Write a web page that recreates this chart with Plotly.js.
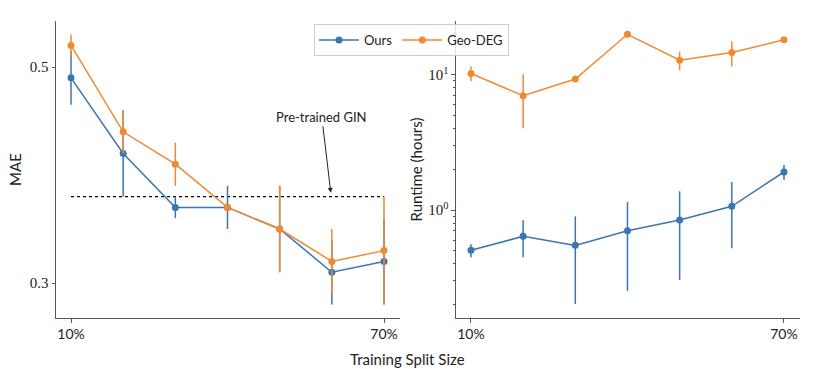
<!DOCTYPE html>
<html>
<head>
<meta charset="utf-8">
<script src="https://cdn.plot.ly/plotly-3.0.1.min.js"></script>
<style>html,body{margin:0;padding:0;background:#fff;}#chart{width:817px;height:369px;}</style>
</head>
<body>
<div id="chart"></div>
<script>
// ---- data ----
const splits = [10, 20, 30, 40, 50, 60, 70];
const tickLabels = ["10%", "70%"];
const tickPositions = [10, 70];

const oursMAE = [0.490, 0.420, 0.370, 0.370, 0.350, 0.310, 0.320];
const oursMAEerr = [0.025, 0.040, 0.010, 0.020, 0.040, 0.030, 0.040];
const geoMAE = [0.520, 0.440, 0.410, 0.370, 0.350, 0.320, 0.330];
const geoMAEerr = [0.010, 0.020, 0.020, 0.002, 0.040, 0.030, 0.050];
const ginMAE = 0.380;

const oursRuntime = [0.504, 0.639, 0.548, 0.703, 0.844, 1.065, 1.91];
const oursRuntimeHi = [0.558, 0.839, 0.898, 1.146, 1.375, 1.61, 2.15];
const oursRuntimeLo = [0.447, 0.447, 0.202, 0.253, 0.304, 0.521, 1.67];
const geoRuntime = [10.2, 7.0, 9.3, 19.9, 12.8, 14.6, 18.1];
const geoRuntimeHi = [11.5, 10.1, 9.3, 19.9, 14.8, 17.7, 18.1];
const geoRuntimeLo = [8.93, 4.02, 9.3, 19.9, 10.8, 11.5, 18.1];

// ---- styles ----
const BLUE = "#3a76b0";
const ORANGE = "#f08a32";
const SANS = "Lato, 'Open Sans', sans-serif";
const SERIF = "'Liberation Serif', 'DejaVu Serif', serif";

function series(name, color, x, y, errPlus, errMinus, xa, ya, showlegend) {
  return {
    type: "scatter", mode: "lines+markers", name: name,
    x: x, y: y, xaxis: xa, yaxis: ya, showlegend: showlegend, legendgroup: name,
    line: {color: color, width: 1.5},
    marker: {color: color, size: 7},
    error_y: {type: "data", symmetric: false, array: errPlus, arrayminus: errMinus,
              color: color, thickness: 1.5, width: 0}
  };
}

const oursRtPlus = oursRuntime.map((v, i) => oursRuntimeHi[i] - v);
const oursRtMinus = oursRuntime.map((v, i) => v - oursRuntimeLo[i]);
const geoRtPlus = geoRuntime.map((v, i) => geoRuntimeHi[i] - v);
const geoRtMinus = geoRuntime.map((v, i) => v - geoRuntimeLo[i]);

const traces = [
  {type: "scatter", mode: "lines", x: [splits[0], splits[splits.length - 1]], y: [ginMAE, ginMAE],
   xaxis: "x", yaxis: "y", showlegend: false, hoverinfo: "skip",
   line: {color: "#000", width: 1.2, dash: "dot"}},
  series("Ours", BLUE, splits, oursMAE, oursMAEerr, oursMAEerr, "x", "y", true),
  series("Geo-DEG", ORANGE, splits, geoMAE, geoMAEerr, geoMAEerr, "x", "y", true),
  series("Ours", BLUE, splits, oursRuntime, oursRtPlus, oursRtMinus, "x2", "y2", false),
  series("Geo-DEG", ORANGE, splits, geoRuntime, geoRtPlus, geoRtMinus, "x2", "y2", false)
];

const xCommon = {
  range: [7.125, 73.07], tickvals: tickPositions, ticktext: tickLabels,
  showline: true, linecolor: "#555", linewidth: 1, ticks: "outside", ticklen: 3.5,
  tickcolor: "#555", showgrid: false, zeroline: false,
  tickfont: {family: SANS, size: 14, color: "#222"}
};

const layout = {
  width: 817, height: 369,
  margin: {l: 56, r: 17, t: 21, b: 51},
  paper_bgcolor: "#fff", plot_bgcolor: "#fff",
  showlegend: true,
  xaxis: Object.assign({}, xCommon, {domain: [0, 0.4624], anchor: "y"}),
  xaxis2: Object.assign({}, xCommon, {domain: [0.5376, 1], anchor: "y2"}),
  yaxis: {
    domain: [0, 1], anchor: "x", range: [0.2676, 0.5426],
    tickvals: [0.3, 0.5], ticktext: ["0.3", "0.5"],
    showline: true, linecolor: "#555", linewidth: 1, ticks: "outside", ticklen: 3.5,
    tickcolor: "#555", showgrid: false, zeroline: false,
    tickfont: {family: SERIF, size: 15, color: "#222"},
    title: {text: "MAE", font: {family: SANS, size: 15, color: "#222"}, standoff: 4}
  },
  yaxis2: {
    domain: [0, 1], anchor: "x2", type: "log", range: [-0.798, 1.397],
    tickvals: [1, 10], ticktext: ["10<sup>0</sup>", "10<sup>1</sup>"],
    showline: true, linecolor: "#555", linewidth: 1, ticks: "outside", ticklen: 3.5,
    tickcolor: "#555", showgrid: false, zeroline: false,
    minor: {ticks: "outside", ticklen: 2, tickcolor: "#555", dtick: "D1", showgrid: false},
    tickfont: {family: SERIF, size: 15, color: "#222"},
    title: {text: "Runtime (hours)", font: {family: SANS, size: 15, color: "#222"}, standoff: 1}
  },
  legend: {
    orientation: "h", x: 0.3468, y: 0.99, xanchor: "left", yanchor: "top",
    xref: "paper", yref: "paper",
    bgcolor: "rgba(255,255,255,0.8)", bordercolor: "#ccc", borderwidth: 1,
    font: {family: SANS, size: 13, color: "#222"}, itemwidth: 40, tracegroupgap: 0
  },
  annotations: [
    {xref: "x", yref: "y", x: 59.8, y: 0.3835, ax: -9, ay: -76,
     text: "Pre-trained GIN", showarrow: true, arrowhead: 2, arrowsize: 1, arrowwidth: 1,
     arrowcolor: "#222", font: {family: SANS, size: 13, color: "#222"}},
    {xref: "paper", yref: "paper", x: 0.472, y: -0.1, xanchor: "center", yanchor: "top",
     text: "Training Split Size", showarrow: false,
     font: {family: SANS, size: 15, color: "#222"}}
  ]
};

Plotly.newPlot("chart", traces, layout, {displayModeBar: false, staticPlot: true});
</script>
</body>
</html>
